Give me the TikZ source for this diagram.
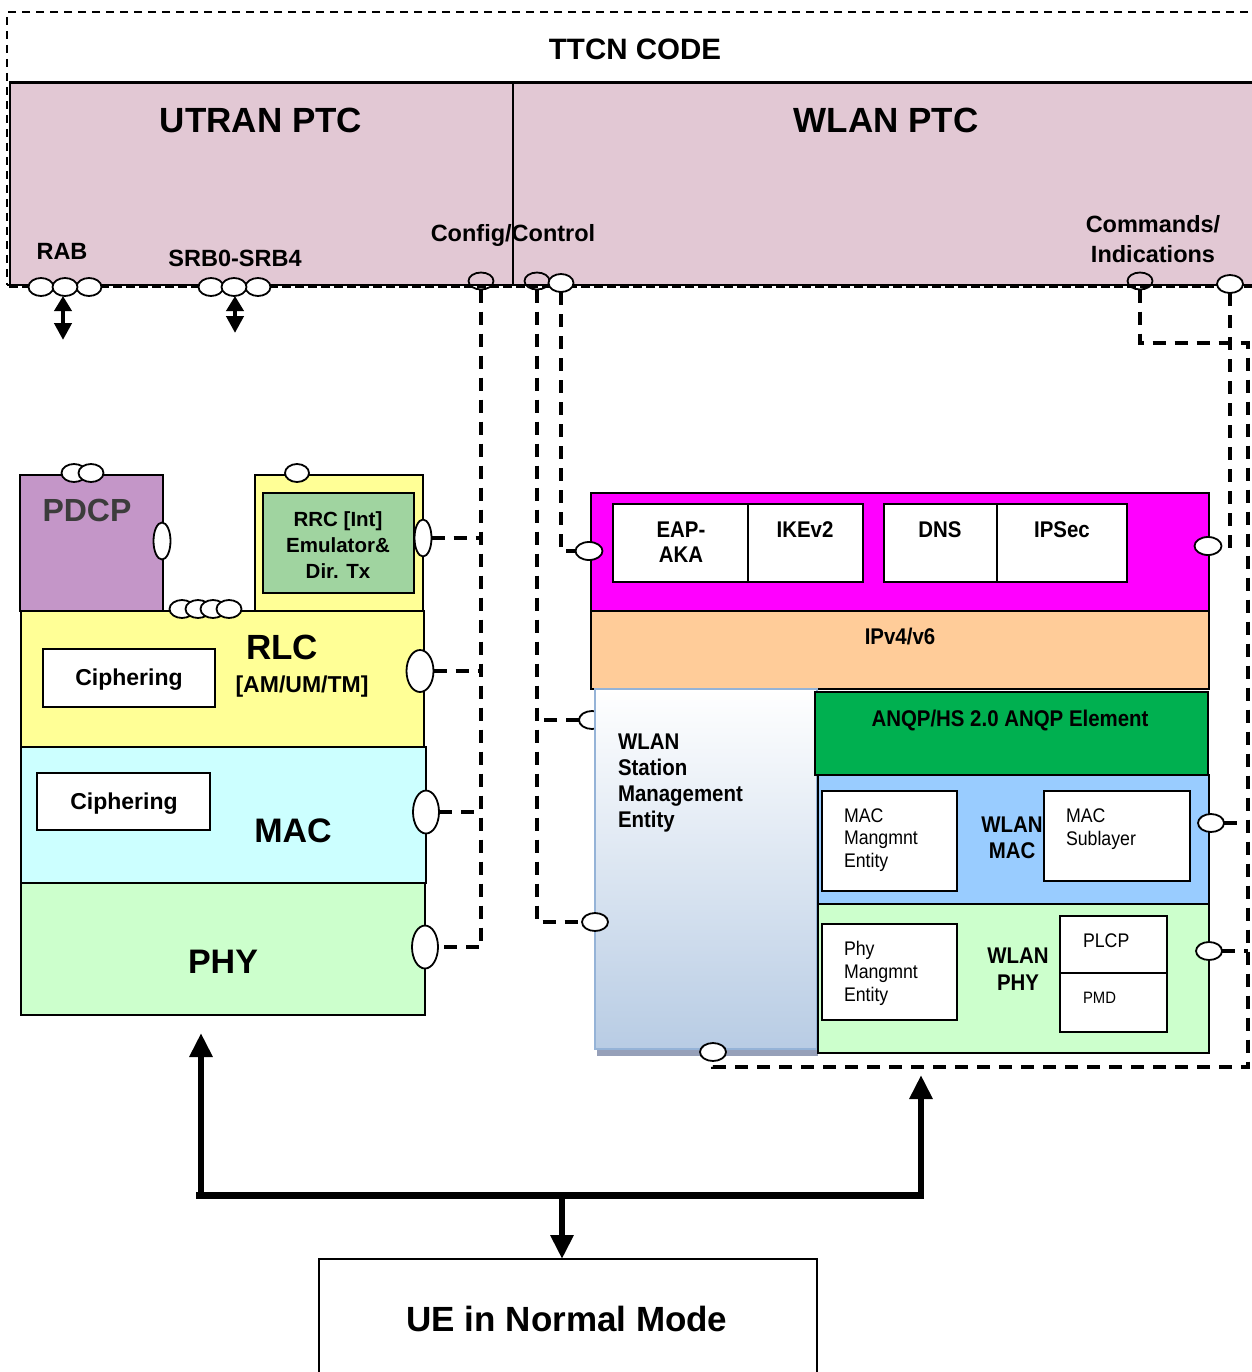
\documentclass[tikz,border=0pt]{standalone}
\usepackage{fontspec}
\setmainfont{Liberation Sans}
\newfontfamily\nf[FakeStretch=0.9]{Liberation Sans}
\usetikzlibrary{shapes.geometric,arrows.meta,fit}
\definecolor{ptc}{RGB}{226,200,212}
\definecolor{pdcpc}{RGB}{196,150,200}
\definecolor{rlcy}{RGB}{255,255,150}
\definecolor{rrcg}{RGB}{160,212,160}
\definecolor{macc}{RGB}{204,255,255}
\definecolor{phyg}{RGB}{204,255,204}
\definecolor{magc}{RGB}{255,0,255}
\definecolor{ipc}{RGB}{255,204,153}
\definecolor{anqpc}{RGB}{0,176,80}
\definecolor{wmacc}{RGB}{153,204,255}
\definecolor{smeb}{RGB}{184,204,228}
\definecolor{smeline}{RGB}{149,179,215}
\definecolor{smeshade}{RGB}{150,160,185}
\definecolor{pdcptext}{RGB}{60,60,60}
\tikzset{
  blk/.style={inner sep=0pt, outer sep=0pt, draw=black, line width=2pt},
  lb/.style={inner sep=0pt, outer sep=0pt},
  hport/.style={ellipse, draw=black, fill=white, line width=1.8pt, inner sep=0pt, outer sep=0pt, minimum width=25pt, minimum height=18pt},
  vport/.style={ellipse, draw=black, fill=white, line width=1.8pt, inner sep=0pt, outer sep=0pt, minimum width=17pt, minimum height=37pt},
  bport/.style={ellipse, draw=black, fill=white, line width=1.8pt, inner sep=0pt, outer sep=0pt, minimum width=26pt, minimum height=43pt},
  conn/.style={line width=4pt, dash pattern=on 13pt off 9pt},
  fat/.style={line width=6.5pt, -{Triangle[length=24pt,width=22pt]}},
  dbl/.style={line width=4.5pt, {Triangle[length=15pt,width=17pt]}-{Triangle[length=17pt,width=17pt]}},
}
\begin{document}
\begin{tikzpicture}[x=1pt,y=-1pt]
\useasboundingbox (0,0) rectangle (1251,1372);

% ---- TTCN code area
\node[fit={(7,12)(1268,285)}, inner sep=0pt, draw=black, line width=2pt, dash pattern=on 8pt off 6pt] (ttcn) {};
\node[lb, anchor=base, font=\fontsize{29.5}{30}\selectfont\bfseries] (ttcnlbl) at (635,60) {TTCN CODE};

\node[fit={(10,83)(513,285)}, inner sep=0pt, fill=ptc, draw=black, line width=1.5pt] (utran) {};
\node[fit={(513,83)(1268,285)}, inner sep=0pt, fill=ptc, draw=black, line width=1.5pt] (wlanptc) {};
\draw[line width=2.2pt] (utran.north west) -- (wlanptc.north east);
\draw[line width=3.5pt, dash pattern=on 9pt off 4pt] (utran.south west) -- (wlanptc.south east);

\node[lb, anchor=base, font=\fontsize{35}{36}\selectfont\bfseries] (utranlbl) at (261,133) {UTRAN PTC};
\node[lb, anchor=base, font=\fontsize{35}{36}\selectfont\bfseries] (wlanlbl) at (886,133) {WLAN PTC};
\node[lb, anchor=base, font=\fontsize{23.5}{28}\selectfont\bfseries] (rablbl) at (62,259) {RAB};
\node[lb, anchor=base, font=\fontsize{23.5}{28}\selectfont\bfseries] (srblbl) at (235,266) {SRB0-SRB4};
\node[lb, anchor=base, font=\fontsize{23.5}{28}\selectfont\bfseries] (cfglbl) at (513,242) {Config/Control};
\node[lb, anchor=base, align=center, font=\fontsize{23.5}{30}\selectfont\bfseries] (cmdlbl) at (1153,262) {Commands/\\Indications};

% ports on PTC
\node[hport] (rab1) at (41,287) {};
\node[hport] (rab3) at (89,287) {};
\node[hport] (rab2) at (65,287) {};
\node[hport] (srb1) at (211,287) {};
\node[hport] (srb3) at (258,287) {};
\node[hport] (srb2) at (234,287) {};
\node[hport, fill=none, minimum height=17pt] (cfg) at (481,281) {};
\node[hport, fill=none, minimum height=17pt] (w1) at (537,281) {};
\node[hport] (w2) at (561,283) {};
\node[hport, fill=none, minimum height=17pt] (cmd) at (1140,281) {};
\node[hport, minimum width=26pt] (ind) at (1230,284) {};

\coordinate (rabend) at (63,340);
\coordinate (srbend) at (235,333);
\draw[dbl] (rab2.south -| rabend) -- (rabend);
\draw[dbl] (srb2.south -| srbend) -- (srbend);

% ---- left stack
\node[blk, fill=pdcpc, fit={(20,475)(163,611)}] (pdcp) {};
\node[lb, anchor=base, text=pdcptext, font=\fontsize{32}{34}\selectfont\bfseries] (pdcplbl) at (87,521) {PDCP};
\node[blk, fill=rlcy, fit={(255,475)(423,611)}] (rrcout) {};
\node[blk, fill=rrcg, fit={(263,493)(414,593)}] (rrcin) {};
\node[lb, anchor=base, align=center, font=\fontsize{20.5}{26}\selectfont\bfseries] (rrclbl) at (338,578) {RRC [Int]\\Emulator\&\\Dir. Tx};
\node[blk, fill=rlcy, fit={(21,611)(424,747)}] (rlc) {};
\node[blk, fill=white, fit={(43,649)(215,707)}] (ciph1) {};
\node[lb, anchor=base, font=\fontsize{23}{26}\selectfont\bfseries] (ciph1lbl) at (129,685) {Ciphering};
\node[lb, anchor=base, font=\fontsize{35}{36}\selectfont\bfseries] (rlclbl) at (282,659) {RLC};
\node[lb, anchor=base, font=\fontsize{23}{26}\selectfont\bfseries] (rlcmode) at (302,692) {[AM/UM/TM]};
\node[blk, fill=macc, fit={(21,747)(426,883)}] (mac) {};
\node[blk, fill=white, fit={(37,773)(210,830)}] (ciph2) {};
\node[lb, anchor=base, font=\fontsize{23}{26}\selectfont\bfseries] (ciph2lbl) at (124,809) {Ciphering};
\node[lb, anchor=base, font=\fontsize{34}{36}\selectfont\bfseries] (maclbl) at (293,842) {MAC};
\node[blk, fill=phyg, fit={(21,883)(425,1015)}] (phy) {};
\node[lb, anchor=base, font=\fontsize{34}{36}\selectfont\bfseries] (phylbl) at (223,973) {PHY};

\node[hport] (pd1) at (74,473) {};
\node[hport] (pd2) at (91,473) {};
\node[hport, minimum width=24pt] (rrctop) at (297,473) {};
\node[hport] (rl1) at (182,609) {};
\node[hport] (rl2) at (198,609) {};
\node[hport] (rl3) at (213,609) {};
\node[hport] (rl4) at (229,609) {};
\node[vport] (pdP) at (162,541) {};
\node[vport] (rrcP) at (423,538) {};
\node[bport, minimum width=27pt, minimum height=42pt] (rlcP) at (420,671) {};
\node[bport] (macP) at (426,812) {};
\node[bport] (phyP) at (425,947) {};

\draw[conn] (cfg.south) |- (phyP.east);
\draw[conn] (rrcP.east) -- (rrcP.east -| cfg);
\draw[conn] (rlcP.east) -- (rlcP.east -| cfg);
\draw[conn] (macP.east) -- (macP.east -| cfg);

% ---- right stack
\node[blk, fill=magc, fit={(591,493)(1209,611)}] (mag) {};
\node[blk, fill=white, fit={(613,504)(748,582)}] (eap) {};
\node[blk, fill=white, fit={(748,504)(863,582)}] (ike) {};
\node[blk, fill=white, fit={(884,504)(997,582)}] (dns) {};
\node[blk, fill=white, fit={(997,504)(1127,582)}] (ipsec) {};
\node[lb, anchor=base, align=center, font=\fontsize{22.7}{25}\selectfont\nf\bfseries] (eaplbl) at (681,562) {EAP-\\AKA};
\node[lb, anchor=base, font=\fontsize{22.7}{25}\selectfont\nf\bfseries] (ikelbl) at (805,537) {IKEv2};
\node[lb, anchor=base, font=\fontsize{22.7}{25}\selectfont\nf\bfseries] (dnslbl) at (940,537) {DNS};
\node[lb, anchor=base, font=\fontsize{22.7}{25}\selectfont\nf\bfseries] (ipseclbl) at (1062,537) {IPSec};
\node[blk, fill=ipc, fit={(591,611)(1209,689)}] (ipv) {};
\node[lb, anchor=base, font=\fontsize{22.7}{25}\selectfont\nf\bfseries] (ipvlbl) at (900,644) {IPv4/v6};

\node[fit={(597,1045)(818,1056)}, inner sep=0pt, fill=smeshade] (smeshadow) {};
\node[hport, minimum width=26pt] (smeP1) at (592,720) {};
\node[fit={(595,689)(817,1049)}, inner sep=0pt, draw=smeline, line width=2pt, top color=white, bottom color=smeb] (sme) {};
\node[lb, anchor=base west, align=left, font=\fontsize{22.7}{26}\selectfont\nf\bfseries] (smelbl) at (618,827) {WLAN\\Station\\Management\\Entity};

\node[blk, fill=anqpc, fit={(815,692)(1208,775)}] (anqp) {};
\node[lb, anchor=base, font=\fontsize{22.7}{25}\selectfont\nf\bfseries] (anqplbl) at (1010,726) {ANQP/HS 2.0 ANQP Element};
\node[blk, fill=wmacc, fit={(818,775)(1209,904)}] (wmac) {};
\node[blk, fill=white, fit={(822,791)(957,891)}] (mme) {};
\node[lb, anchor=base west, align=left, font=\fontsize{19.7}{22.5}\selectfont\nf] (mmelbl) at (844,867) {MAC\\Mangmnt\\Entity};
\node[lb, anchor=base, align=center, font=\fontsize{22.7}{26}\selectfont\nf\bfseries] (wmaclbl) at (1012,858) {WLAN\\MAC};
\node[blk, fill=white, fit={(1044,791)(1190,881)}] (msub) {};
\node[lb, anchor=base west, align=left, font=\fontsize{19.7}{23}\selectfont\nf] (msublbl) at (1066,845) {MAC\\Sublayer};
\node[blk, fill=phyg, fit={(818,904)(1209,1053)}] (wphy) {};
\node[blk, fill=white, fit={(822,924)(957,1020)}] (pme) {};
\node[lb, anchor=base west, align=left, font=\fontsize{19.7}{23}\selectfont\nf] (pmelbl) at (844,1001) {Phy\\Mangmnt\\Entity};
\node[lb, anchor=base, align=center, font=\fontsize{22.7}{27}\selectfont\nf\bfseries] (wphylbl) at (1018,990) {WLAN\\PHY};
\node[blk, fill=white, fit={(1060,916)(1167,973)}] (plcp) {};
\node[blk, fill=white, fit={(1060,973)(1167,1032)}] (pmd) {};
\node[lb, anchor=base west, font=\fontsize{19.7}{23}\selectfont\nf] (plcplbl) at (1083,947) {PLCP};
\node[lb, anchor=base west, font=\fontsize{16.5}{20}\selectfont\nf] (pmdlbl) at (1083,1003) {PMD};

\node[hport, minimum width=27pt] (magL) at (589,551) {};
\node[hport, minimum width=27pt] (magR) at (1208,546) {};
\node[hport, minimum width=26pt] (smeP2) at (595,922) {};
\node[hport, minimum width=26pt] (smeB) at (713,1052) {};
\node[hport, minimum width=26pt] (wmacP) at (1211,823) {};
\node[hport, minimum width=26pt] (wphyP) at (1209,951) {};

\draw[conn] (w1.south) |- (smeP2.west);
\draw[conn] (smeP1.west) -- (smeP1.west -| w1);
\draw[conn] (w2.south) |- (magL.west);
\coordinate (rc1) at (1248,343);
\coordinate (rc2) at (1248,1067);
\draw[conn] (cmd.south) |- (rc1) -- (rc2) -| (smeB.south);
\draw[conn] (ind.south) |- (magR.east);
\draw[conn] (wmacP.east) -- (wmacP.east -| rc1);
\draw[conn] (wphyP.east) -- (wphyP.east -| rc1);

% ---- UE and main arrows
\node[blk, fill=white, fit={(319,1259)(817,1400)}] (ue) {};
\node[lb, anchor=base, font=\fontsize{35}{36}\selectfont\bfseries] (uelbl) at (567,1331) {UE in Normal Mode};

\coordinate (bl) at (201,1195);
\coordinate (br) at (921,1195);
\coordinate (bm) at (562,1195);
\coordinate (ltip) at (201,1033);
\coordinate (rtip) at (921,1075);
\draw[line width=7pt] ([xshift=-5pt]bl) -- ([xshift=3pt]br);
\draw[fat] ([yshift=3pt]bl) -- (ltip);
\draw[fat] ([yshift=3pt]br) -- (rtip);
\draw[fat] (bm) -- (ue.north -| bm);
\end{tikzpicture}
\end{document}
